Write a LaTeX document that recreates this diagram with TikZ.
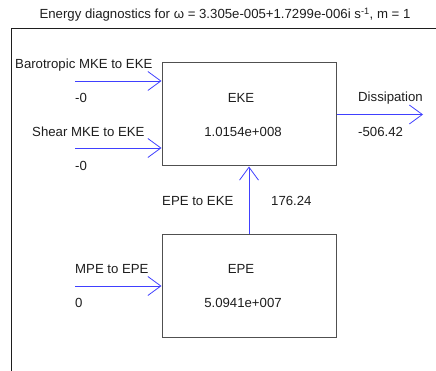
\documentclass[tikz,border=0pt]{standalone}
\usepackage{fontspec}
\setmainfont{Liberation Sans}
\usetikzlibrary{arrows.meta}
\definecolor{flowblue}{RGB}{64,64,255}
\definecolor{boxgray}{RGB}{80,80,80}
\definecolor{inkdark}{RGB}{30,30,30}

\begin{document}
\begin{tikzpicture}[x=1pt, y=-1pt, >={Straight Barb[length=13pt,width=19pt]},
    box/.style={draw=boxgray, line width=1pt, minimum width=174pt, minimum height=103pt, inner sep=0pt},
    flow/.style={->, flowblue, line width=0.8pt},
    lbl/.style={text=inkdark, font=\fontsize{13.2}{15}\selectfont, inner sep=0pt}]
    \useasboundingbox (0,0) rectangle (436,371);

    % Title and frame
    \node[lbl, anchor=base] (title) at (225,19) {Energy diagnostics for ω = 3.305e-005+1.7299e-006i s\textsuperscript{-1}, m = 1};
    \draw[inkdark, line width=1pt] (11,371) -- (11,29) -- (436,29);

    % Reservoirs
    \node[box] (eke) at (249,114.5) {};
    \node[box] (epe) at (249,286) {};
    \node[lbl, anchor=base] (ekename) at (241,102.7) {EKE};
    \node[lbl, anchor=base] (ekeval) at (243,136.7) {1.0154e+008};
    \node[lbl, anchor=base] (epename) at (241,273.7) {EPE};
    \node[lbl, anchor=base] (epeval) at (243,307.7) {5.0941e+007};

    % Inflows
    \coordinate (btin) at (75,81);
    \coordinate (shin) at (75,148);
    \coordinate (mpin) at (75,286);
    \draw[flow] (btin) -- (btin -| eke.west);
    \draw[flow] (shin) -- (shin -| eke.west);
    \draw[flow] (mpin) -- (mpin -| epe.west);
    \node[lbl, anchor=base west] (btlbl) at (15,68.7) {Barotropic MKE to EKE};
    \node[lbl, anchor=base west] (btval) at (75,102.7) {-0};
    \node[lbl, anchor=base west] (shlbl) at (32,136.7) {Shear MKE to EKE};
    \node[lbl, anchor=base west] (shval) at (75,170.7) {-0};
    \node[lbl, anchor=base west] (mplbl) at (75,273.7) {MPE to EPE};
    \node[lbl, anchor=base west] (mpval) at (75,307.7) {0};

    % Conversion and dissipation
    \draw[flow] (epe.north) -- (eke.south);
    \node[lbl, anchor=base west] (cvlbl) at (162,205.7) {EPE to EKE};
    \node[lbl, anchor=base west] (cvval) at (271,205.7) {176.24};
    \coordinate (dsout) at (423,114.5);
    \draw[flow] (eke.east) -- (dsout);
    \node[lbl, anchor=base west] (dslbl) at (358,101.7) {Dissipation};
    \node[lbl, anchor=base west] (dsval) at (358,136.7) {-506.42};
\end{tikzpicture}
\end{document}
